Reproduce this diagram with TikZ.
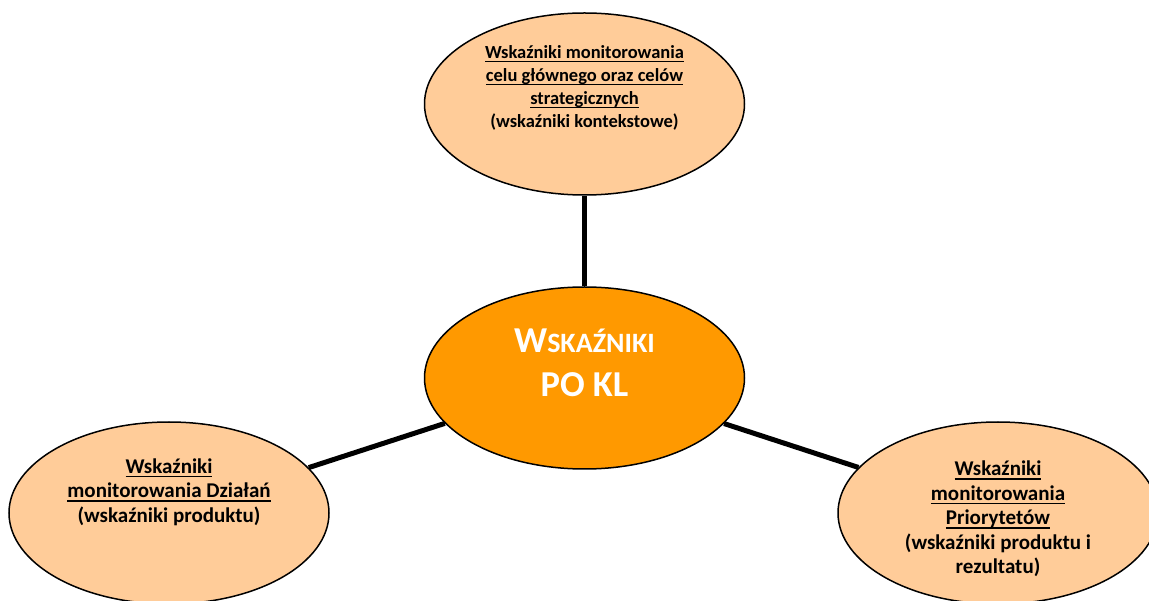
\documentclass[tikz,border=0pt]{standalone}
\usepackage{fontspec}
\setmainfont{Carlito}
\usetikzlibrary{shapes.geometric}
\newsavebox{\ulbox}
\newcommand{\ulin}[1]{\sbox{\ulbox}{#1}\rlap{\rule[-3.9pt]{\wd\ulbox}{1.4pt}}\usebox{\ulbox}}
\definecolor{peach}{HTML}{FFCC99}
\definecolor{orangec}{HTML}{FF9900}
\begin{document}
\begin{tikzpicture}[x=1pt, y=1pt, line width=5pt,
		main/.style = {draw, ellipse, line width=1.5pt, fill=peach, minimum width=320pt, minimum height=182pt, inner sep=0pt},
		txt/.style = {align=center, font=\bfseries\fontsize{21}{24.5}\selectfont}]
	\useasboundingbox (0,0) rectangle (1149,600);
	\node[main, fill=orangec] (kl) at (584.5,222) {};
	\node[main] (cel) at (584.5,496) {};
	\node[main] (dzial) at (169,87) {};
	\node[main] (prio) at (998,87) {};
	\node[txt, text=white, font=\bfseries\fontsize{36.5}{44}\selectfont] (kl-t) at ([yshift=15pt]kl) {W{\fontsize{28}{30}\selectfont SKAŹNIKI}\\PO KL};
	\node[txt, font=\bfseries\fontsize{18.5}{23}\selectfont] (cel-t) at ([yshift=16pt]cel) {\ulin{Wskaźniki monitorowania}\\\ulin{celu głównego oraz celów}\\\ulin{strategicznych}\\(wskaźniki kontekstowe)};
	\node[txt] (dzial-t) at ([yshift=21pt]dzial) {\ulin{Wskaźniki}\\\ulin{monitorowania Działań}\\(wskaźniki produktu)};
	\node[txt] (prio-t) at ([yshift=-6pt]prio) {\ulin{Wskaźniki}\\\ulin{monitorowania}\\\ulin{Priorytetów}\\(wskaźniki produktu i\\rezultatu)};
	\draw (kl) -- (cel);
	\draw (kl) -- (dzial);
	\draw (kl) -- (prio);
\end{tikzpicture}
\end{document}
